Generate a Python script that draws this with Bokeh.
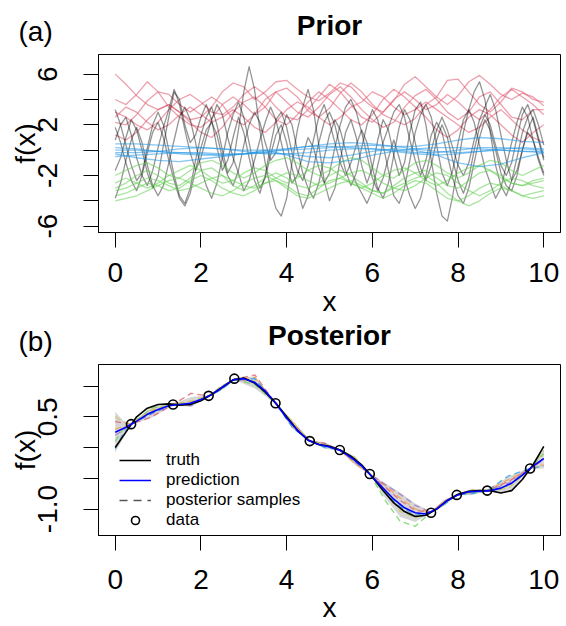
import numpy as np
from bokeh.plotting import figure
from bokeh.models import FixedTicker, Legend, LegendItem, Range1d
from bokeh.core.properties import value
from bokeh.layouts import column
from bokeh.embed import file_html
from bokeh.resources import INLINE

FONT = "Liberation Sans"
NAN = float("nan")

# ---------------- data: panel (a) Prior ----------------
prior_red = [
    [6.0, 5.2, 4.3, 3.6, 3.2, 3.6, 3.0, 2.4, 2.6, 3.4, 4.6, 5.3, 5.0, 4.0, 4.6, 5.4, 5.5, 4.8, 4.2, 3.9, 4.5,
     5.3, 5.0, 4.1, 3.4, 3.0, 3.9, 5.2, 5.8, 5.0, 4.2, 3.6, 4.3, 5.4, 5.9, 5.2, 4.4, 4.0, 4.5, 4.2, 3.5],
    [4.0, 3.6, 4.4, 5.4, 4.6, 3.4, 2.6, 2.0, 1.8, 2.5, 3.6, 4.2, 3.6, 2.8, 3.4, 4.6, 4.9, 4.2, 3.1, 2.6, 3.3,
     4.5, 5.3, 4.6, 3.6, 2.8, 2.4, 2.0, 2.5, 3.6, 4.2, 5.5, 5.6, 4.6, 3.6, 3.0, 3.8, 4.9, 4.6, 4.0, 3.8],
    [2.2, 2.0, 2.8, 3.9, 4.6, 4.4, 3.6, 3.0, 3.6, 4.2, 3.6, 2.4, 2.0, 2.8, 4.0, 4.6, 3.8, 3.0, 2.6, 3.4, 4.4,
     5.0, 4.2, 3.2, 2.4, 1.8, 2.2, 3.4, 4.3, 4.8, 4.0, 3.0, 2.4, 3.0, 4.2, 4.6, 3.6, 2.6, 2.4, 3.2, 3.2],
    [1.2, 0.8, 1.4, 2.4, 3.2, 3.6, 3.0, 2.2, 1.4, 1.0, 1.8, 3.0, 3.8, 4.2, 3.4, 2.4, 2.0, 2.8, 3.8, 4.6, 4.0,
     3.2, 2.4, 2.0, 2.8, 4.0, 4.8, 4.2, 3.4, 2.6, 1.6, 1.0, 1.6, 2.6, 3.2, 2.8, 2.0, 1.2, 0.6, 1.4, 2.0],
    [3.0, 2.6, 2.0, 1.6, 2.2, 3.2, 4.0, 4.4, 3.8, 3.0, 2.8, 3.4, 4.4, 5.0, 4.4, 3.4, 2.6, 2.4, 3.2, 4.2, 5.2,
     4.6, 3.6, 2.6, 2.2, 3.0, 4.0, 4.6, 4.0, 3.2, 3.6, 4.4, 3.8, 3.0, 2.4, 3.2, 4.2, 4.8, 4.2, 3.6, 2.8],
    [2.6, 3.4, 3.0, 2.2, 1.6, 2.0, 2.8, 3.4, 2.8, 2.2, 2.6, 3.2, 2.6, 1.8, 1.4, 2.2, 3.2, 3.8, 3.4, 2.6, 2.0,
     2.6, 3.4, 3.8, 4.6, 4.2, 3.4, 2.8, 3.2, 3.8, 3.2, 2.6, 2.0, 1.4, 1.8, 2.6, 3.2, 2.4, 1.6, 1.0, 0.6],
]

prior_black = [
    [3.2, 2.0, 0.4, -1.2, -2.4, -1.8, 0.2, 2.0, 3.0, 2.0, 0.0, -2.0, -3.6, -4.2, -3.0, -0.8, 1.2, 2.6, 3.4,
     2.0, 0.0, -1.8, -1.0, 1.6, 4.6, 6.6, 4.8, 1.6, -1.0, -3.0, -4.6, -5.2, -3.8, -1.0, 1.6, 3.4, 4.8, 3.2,
     0.4, -2.4, -4.0, -3.0, -0.8, 1.4, 2.4, 1.0, -1.2, -2.6, -1.4, 0.8, 2.4, 1.6, -0.4, -2.0, -1.0, 1.4, 3.2,
     3.8, 2.0, -0.8, -3.4, -5.2, -5.6, -3.6, -1.0, 1.4, 3.2, 4.6, 5.4, 4.0, 1.4, -1.2, -2.8, -3.6, -2.4,
     -0.6, 1.4, 2.6, 3.2, 2.0, 0.4],
    [-1.6, -0.6, 1.0, 2.4, 1.6, 0.0, -1.8, -3.0, -2.0, 0.4, 2.6, 4.6, 4.0, 2.0, 0.6, 1.2, 2.6, 3.6, 2.4, 0.2,
     -1.6, -0.8, 1.0, 2.6, 1.4, -0.6, -2.4, -3.4, -2.0, 0.4, 2.4, 3.0, 1.8, -0.2, -1.6, -2.4, -1.2, 0.8, 2.6,
     3.6, 2.2, 0.6, -1.0, -2.0, -1.0, 0.4, 1.6, 0.6, -1.4, -3.0, -3.8, -2.6, -0.4, 1.8, 3.2, 2.4, 0.6, -1.4,
     -2.4, -1.2, 0.8, 2.0, 1.0, -0.8, -2.4, -3.4, -2.2, 0.0, 1.8, 2.8, 2.0, 0.4, -1.2, -2.0, -1.0, 1.0, 2.8,
     3.6, 2.4, 0.8, -0.8],
    [1.8, 0.6, -1.0, -2.4, -3.2, -2.0, -0.2, 1.4, 2.2, 1.0, -0.8, -2.4, -3.8, -4.4, -3.4, -1.6, 0.2, 1.6, 2.2,
     1.2, -0.6, -2.0, -2.8, -1.6, 0.4, 2.0, 3.0, 2.2, 0.6, -0.8, -0.2, 1.4, 2.8, 2.0, 0.0, -1.8, -3.0, -3.8,
     -2.6, -0.6, 1.2, 2.4, 1.6, 0.0, -1.6, -2.6, -3.4, -4.2, -3.2, -1.2, 0.6, 1.8, 3.0, 3.6, 2.6, 0.8, -0.8,
     -2.0, -0.8, 1.2, 2.2, 1.4, -0.4, -2.2, -3.6, -4.2, -3.0, -1.0, 1.0, 2.4, 1.6, 0.0, -1.8, -2.8, -3.2,
     -2.0, 0.0, 1.6, 2.6, 1.0, -0.6],
    [-3.8, -2.6, -0.8, 0.8, 1.8, 0.6, -1.2, -2.8, -3.6, -2.8, -1.0, 0.8, 2.6, 3.4, 2.4, 0.6, -1.4, -2.8, -3.8,
     -2.6, -0.6, 1.4, 2.8, 3.8, 2.6, 0.6, -1.6, -3.0, -2.2, -0.4, 1.2, 2.0, 0.6, -1.4, -3.0, -4.6, -3.6, -1.4,
     0.6, 2.2, 3.0, 2.0, 0.2, -1.6, -2.8, -1.8, 0.2, 2.0, 3.2, 2.4, 0.4, -1.6, -3.6, -4.2, -3.0, -0.8, 1.4,
     2.8, 3.6, 2.6, 0.4, -1.8, -2.8, -1.6, 0.6, 2.4, 3.2, 2.2, 0.4, -1.4, -2.6, -3.8, -3.0, -1.2, 0.6, 2.2,
     3.4, 2.6, 0.8, -0.6, -1.8],
    [0.8, 2.0, 2.6, 1.2, -0.6, -2.0, -2.8, -1.6, 0.2, 1.8, 3.2, 4.8, 3.6, 1.6, -0.2, -1.6, -0.6, 1.0, 2.4, 3.6,
     2.8, 1.0, -0.6, -1.8, -3.2, -2.4, -0.8, 0.8, 2.2, 3.4, 2.4, 0.6, -1.2, -2.6, -2.0, -0.4, 1.0, 0.2, -1.4,
     -2.6, -1.8, 0.2, 2.0, 3.4, 4.0, 3.0, 1.4, -0.4, -2.2, -3.2, -2.2, -0.6, 0.8, -0.6, -2.2, -3.6, -4.6,
     -3.8, -2.0, 0.0, 1.6, 2.6, 1.6, 0.2, -1.2, -2.0, -1.0, 0.8, 2.4, 3.4, 4.4, 3.2, 1.2, -0.8, -2.4, -1.6,
     0.0, 1.4, 0.8, -0.8, -2.0],
]

prior_green = [
    [-2.0, -1.6, -1.2, -1.0, -1.4, -2.0, -2.2, -1.6, -1.0, -0.8, -1.2, -1.8, -2.2, -1.8, -1.2, -0.8, -0.6, -1.0,
     -1.6, -2.0, -1.6, -1.0, -0.6, -0.8, -1.4, -2.0, -2.2, -1.6, -1.0, -0.8, -1.2, -1.8, -2.2, -1.8, -1.2, -0.8,
     -1.0, -1.6, -2.0, -1.6, -1.2],
    [-3.0, -2.6, -2.0, -1.6, -2.0, -2.6, -2.8, -2.2, -1.6, -1.4, -2.0, -2.8, -3.2, -2.8, -2.2, -1.8, -2.2, -2.8,
     -3.0, -2.6, -2.0, -1.6, -2.0, -2.6, -3.2, -3.4, -2.8, -2.2, -1.8, -1.6, -2.2, -2.8, -3.0, -2.4, -1.8, -1.6,
     -2.0, -2.6, -2.8, -2.4, -2.2],
    [-3.6, -3.4, -3.0, -2.6, -2.8, -3.2, -3.0, -2.4, -2.0, -2.4, -3.0, -3.4, -3.6, -3.2, -2.6, -2.4, -2.8, -3.4,
     -3.6, -3.0, -2.4, -2.2, -2.6, -3.0, -3.4, -3.8, -3.4, -2.8, -2.4, -2.6, -3.2, -3.8, -4.0, -3.6, -3.0, -2.6,
     -2.8, -3.2, -3.6, -3.4, -3.2],
    [-4.0, -3.8, -3.6, -3.2, -2.8, -2.4, -2.2, -2.6, -3.0, -3.4, -3.6, -3.2, -2.6, -2.2, -2.0, -2.4, -3.0, -3.6,
     -3.8, -3.4, -3.0, -2.6, -2.4, -2.8, -3.2, -3.4, -3.0, -2.6, -2.2, -2.0, -2.6, -3.4, -4.0, -4.4, -4.0, -3.4,
     -3.0, -3.2, -3.6, -3.8, -3.6],
    [-2.6, -2.2, -2.6, -3.0, -2.6, -2.0, -1.6, -1.2, -1.6, -2.2, -2.6, -2.4, -1.8, -1.4, -1.6, -2.2, -2.6, -2.2,
     -1.6, -1.2, -1.4, -2.0, -2.6, -3.0, -2.6, -2.0, -1.6, -1.4, -1.8, -2.4, -2.8, -2.4, -1.8, -1.4, -1.2, -1.6,
     -2.2, -2.6, -2.8, -2.6, -2.4],
    [-3.2, -3.0, -2.6, -2.2, -2.4, -2.8, -3.2, -3.0, -2.6, -2.2, -2.0, -2.4, -2.8, -3.0, -2.6, -2.2, -1.8, -2.0,
     -2.4, -2.8, -2.6, -2.2, -1.8, -1.6, -2.0, -2.6, -3.0, -3.2, -2.8, -2.2, -1.8, -2.0, -2.6, -3.2, -3.6, -3.2,
     -2.6, -2.2, -2.4, -2.8, -3.0],
]

prior_blue = [
    [0.5, 0.5, 0.4, 0.3, 0.2, 0.1, 0.0, 0.0, 0.1, 0.3, 0.5, 0.6, 0.5, 0.3, 0.3, 0.5, 0.8, 1.0, 0.9, 0.7, 0.6],
    [-0.3, -0.6, -0.8, -0.9, -0.7, -0.5, -0.3, -0.2, -0.3, -0.5, -0.6, -0.4, -0.1, 0.1, 0.0, -0.4, -1.0, -1.3,
     -1.1, -0.6, -0.2],
    [0.0, 0.0, -0.1, -0.2, -0.2, -0.3, -0.3, -0.2, 0.1, 0.3, 0.3, 0.2, 0.1, 0.0, -0.2, -0.2, 0.0, 0.2, 0.2, 0.1, 0.0],
    [-0.5, -0.4, -0.3, -0.2, -0.3, -0.4, -0.3, 0.0, -0.4, -0.9, -1.0, -0.8, -0.4, -0.1, 0.1, 0.2, 0.2, 0.1, 0.0,
     -0.1, -0.1],
    [0.2, 0.1, -0.1, -0.3, -0.4, -0.4, -0.3, -0.1, 0.0, 0.1, 0.2, 0.3, 0.4, 0.3, 0.1, -0.1, -0.2, -0.1, 0.1, 0.2, 0.1],
    [-0.2, -0.2, -0.1, 0.1, 0.2, 0.1, -0.1, -0.3, -0.3, -0.2, 0.0, 0.1, 0.1, -0.1, -0.3, -0.4, -0.3, -0.1, 0.0,
     -0.1, -0.2],
]

# ---------------- data: panel (b) Posterior ----------------
x_curve = [i * 0.25 for i in range(41)]
truth = [0.00, 0.25, 0.50, 0.64, 0.70, 0.71, 0.69, 0.70, 0.76, 0.86, 0.98, 1.10, 1.13, 1.05, 0.90, 0.72, 0.50,
         0.28, 0.12, 0.05, 0.02, -0.04, -0.14, -0.28, -0.48, -0.70, -0.90, -1.04, -1.12, -1.10, -1.00, -0.86,
         -0.76, -0.71, -0.70, -0.70, -0.74, -0.70, -0.52, -0.28, 0.02]
prediction = [0.25, 0.33, 0.43, 0.54, 0.62, 0.68, 0.70, 0.72, 0.78, 0.86, 0.98, 1.10, 1.12, 1.06, 0.92, 0.72,
              0.48, 0.28, 0.12, 0.05, 0.01, -0.05, -0.16, -0.30, -0.48, -0.66, -0.84, -0.98, -1.06, -1.08,
              -1.00, -0.86, -0.77, -0.72, -0.71, -0.70, -0.66, -0.58, -0.45, -0.30, -0.18]

x_band = [0.00, 0.18, 0.37, 0.86, 1.35, 1.77, 2.18, 2.48, 2.78, 3.26, 3.74, 4.14, 4.54, 4.89, 5.24, 5.59,
          5.94, 6.30, 6.65, 7.00, 7.37, 7.67, 7.97, 8.33, 8.68, 9.18, 9.68, 10.00]
band_lower = [-0.08, 0.14, 0.37, 0.49, 0.69, 0.66, 0.83, 0.93, 1.10, 0.96, 0.71, 0.30, 0.10, -0.02, -0.05,
              -0.28, -0.44, -0.82, -1.13, -1.21, -1.06, -0.95, -0.78, -0.77, -0.71, -0.73, -0.35, -0.34]
band_upper = [0.58, 0.44, 0.39, 0.67, 0.71, 0.82, 0.85, 1.01, 1.12, 1.16, 0.73, 0.44, 0.12, 0.08, -0.03,
              -0.14, -0.42, -0.58, -0.73, -0.91, -1.04, -0.85, -0.76, -0.67, -0.69, -0.47, -0.33, -0.02]

samples = [
    [0.42, 0.40, 0.38, 0.50, 0.70, 0.88, 0.84, 0.99, 1.11, 1.18, 0.72, 0.40, 0.11, 0.07, -0.04, -0.24, -0.43,
     -0.64, -0.86, -1.02, -1.05, -0.88, -0.77, -0.70, -0.70, -0.55, -0.34, -0.20],
    [0.10, 0.30, 0.38, 0.64, 0.70, 0.70, 0.84, 0.95, 1.11, 1.02, 0.72, 0.36, 0.11, 0.02, -0.04, -0.20, -0.43,
     -0.86, -1.20, -1.28, -1.05, -0.92, -0.77, -0.74, -0.70, -0.62, -0.34, -0.10],
    [0.30, 0.34, 0.38, 0.60, 0.70, 0.74, 0.84, 0.96, 1.11, 1.14, 0.72, 0.34, 0.11, 0.04, -0.04, -0.26, -0.43,
     -0.62, -0.82, -1.00, -1.05, -0.88, -0.77, -0.72, -0.70, -0.52, -0.34, -0.28],
    [0.20, 0.28, 0.38, 0.55, 0.70, 0.68, 0.84, 0.98, 1.11, 1.06, 0.72, 0.38, 0.11, 0.06, -0.04, -0.18, -0.43,
     -0.60, -0.76, -0.94, -1.05, -0.90, -0.77, -0.70, -0.70, -0.58, -0.34, -0.18],
    [-0.02, 0.22, 0.38, 0.56, 0.70, 0.72, 0.84, 0.94, 1.11, 1.12, 0.72, 0.32, 0.11, 0.00, -0.04, -0.22, -0.43,
     -0.74, -0.96, -1.10, -1.05, -0.93, -0.77, -0.75, -0.70, -0.46, -0.34, -0.30],
    [0.50, 0.42, 0.38, 0.62, 0.70, 0.76, 0.84, 1.00, 1.11, 1.08, 0.72, 0.42, 0.11, 0.05, -0.04, -0.16, -0.43,
     -0.70, -1.04, -1.14, -1.05, -0.90, -0.77, -0.69, -0.70, -0.66, -0.34, -0.05],
]
sample_colors = ["#DF536B", "#61D04F", "#F39C34", "#9B6BC8", "#2297E6", "#C9C84A"]

data_x = [0.37, 1.35, 2.18, 2.78, 3.74, 4.54, 5.24, 5.94, 7.37, 7.97, 8.68, 9.68]
data_y = [0.38, 0.70, 0.84, 1.12, 0.72, 0.105, -0.04, -0.43, -1.06, -0.77, -0.70, -0.34]

x_ticks = [0, 2, 4, 6, 8, 10]
prior_y_ticks = [-6, -4, -2, 0, 2, 4, 6]
prior_y_labels = {6: "6", 4: "", 2: "2", 0: "", -2: "-2", -4: "", -6: "-6"}
post_y_ticks = [-1.0, -0.5, 0.0, 0.5, 1.0]
post_y_labels = {-1.0: "-1.0", -0.5: "", 0.0: "", 0.5: "0.5", 1.0: ""}
legend_labels = ["truth", "prediction", "posterior samples", "data"]
panel_titles = ["Prior", "Posterior"]
panel_tags = ["(a)", "(b)"]

W = 566
AX_FONT = "28px"


def style(p, yticks, ylabels, xstand, xlab_stand):
    p.xgrid.visible = False
    p.ygrid.visible = False
    p.outline_line_color = "black"
    p.outline_line_alpha = 1.0
    p.outline_line_width = 1
    p.xaxis.ticker = FixedTicker(ticks=x_ticks)
    p.yaxis.ticker = FixedTicker(ticks=yticks)
    p.yaxis.major_label_overrides = ylabels
    for ax in (p.xaxis[0], p.yaxis[0]):
        ax.major_tick_out = 15
        ax.major_tick_in = 0
        ax.minor_tick_out = 0
        ax.minor_tick_in = 0
        ax.axis_line_color = "black"
        ax.major_tick_line_color = "black"
        ax.major_label_text_font = FONT
        ax.major_label_text_font_size = AX_FONT
        ax.major_label_text_color = "black"
        ax.axis_label_text_font = FONT
        ax.axis_label_text_font_size = AX_FONT
        ax.axis_label_text_font_style = "normal"
        ax.axis_label_text_color = "black"
    p.xaxis.major_label_standoff = xstand
    p.xaxis.axis_label_standoff = xlab_stand
    p.yaxis.major_label_standoff = 26
    p.yaxis.axis_label_standoff = -5
    p.yaxis.major_label_orientation = "parallel"
    p.xaxis.axis_label = "x"
    p.yaxis.axis_label = "f(x)"


def header(h, title, tag, y_title, y_tag):
    hp = figure(width=W, height=h, x_range=Range1d(0, W), y_range=Range1d(0, h),
                output_backend="svg", toolbar_location=None, x_axis_type=None, y_axis_type=None,
                min_border=0, title_location=None, frame_align=False)
    hp.outline_line_color = None
    hp.xgrid.visible = False
    hp.ygrid.visible = False
    hp.text(x=[329], y=[y_title], text=[title], text_align="center", text_baseline="alphabetic",
            text_font=value(FONT), text_font_size="28px", text_font_style="bold", text_color="black")
    hp.text(x=[18], y=[y_tag], text=[tag], text_align="left", text_baseline="alphabetic",
            text_font=value(FONT), text_font_size="28px", text_color="black")
    return hp


# ---------------- panel (a) ----------------
h1 = header(48, panel_titles[0], panel_tags[0], 23, 17)
p1 = figure(width=W, height=271, x_range=Range1d(-0.39, 10.39), y_range=Range1d(-6.5, 7.55),
            output_backend="svg", toolbar_location=None, title_location=None,
            min_border_left=98, min_border_right=6, min_border_top=6, min_border_bottom=0)
style(p1, prior_y_ticks, prior_y_labels, 15, 1)

groups = [(prior_red, "#DF536B", 0.55), (prior_black, "#000000", 0.42),
          (prior_green, "#61D04F", 0.55), (prior_blue, "#2297E6", 0.55)]
for curves, color, alpha in groups:
    xs = [list(np.linspace(0, 10, len(c))) for c in curves]
    p1.multi_line(xs, curves, line_color=color, line_alpha=alpha, line_width=1.3, line_join="round")

# ---------------- panel (b) ----------------
h2 = header(39, panel_titles[1], panel_tags[1], 23, 17)
p2 = figure(width=W, height=267, x_range=Range1d(-0.39, 10.39), y_range=Range1d(-1.43, 1.35),
            output_backend="svg", toolbar_location=None, title_location=None,
            min_border_left=98, min_border_right=6, min_border_top=6, min_border_bottom=0)
style(p2, post_y_ticks, post_y_labels, 19, 0)

p2.varea(x=x_band, y1=band_lower, y2=band_upper, fill_color="#C8C8C8", fill_alpha=0.75)
for s, c in zip(samples, sample_colors):
    p2.line(x_band, s, line_color=c, line_alpha=0.75, line_width=1.3, line_dash="6 4")
r_truth = p2.line(x_curve, truth, line_color="black", line_width=1.6)
r_pred = p2.line(x_curve, prediction, line_color="#0000FF", line_width=1.6)
r_key = p2.line(x=[NAN, NAN], y=[NAN, NAN], line_color="#555555", line_width=1.3, line_dash="8 6")
r_data = p2.scatter(data_x, data_y, marker="circle", size=9, fill_color=None, line_color="black",
                    line_width=1.6)

legend = Legend(items=[LegendItem(label=legend_labels[0], renderers=[r_truth]),
                       LegendItem(label=legend_labels[1], renderers=[r_pred]),
                       LegendItem(label=legend_labels[2], renderers=[r_key]),
                       LegendItem(label=legend_labels[3], renderers=[r_data])],
                location=(16, 0), margin=0, padding=5, spacing=0,
                glyph_width=32, glyph_height=20, label_height=20, label_standoff=15,
                label_text_font=FONT, label_text_font_size="17px", label_text_color="black",
                border_line_alpha=0, background_fill_alpha=0)
p2.add_layout(legend)

layout = column(h1, p1, h2, p2, spacing=0)
open("out.html", "w").write(file_html(layout, INLINE))
